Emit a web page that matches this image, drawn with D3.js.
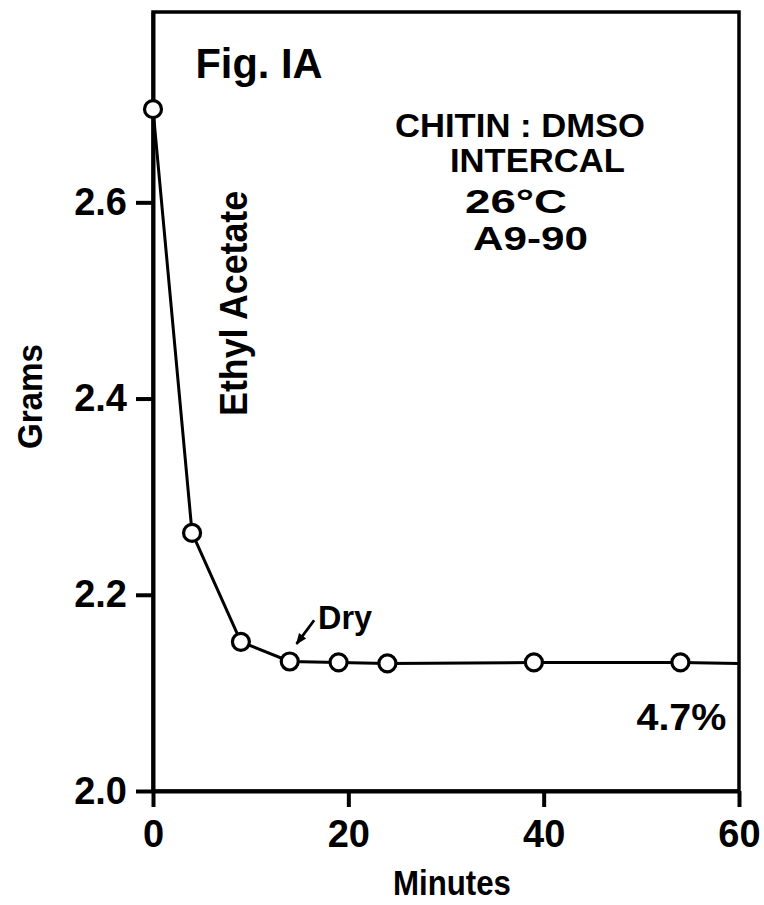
<!DOCTYPE html>
<html>
<head>
<meta charset="utf-8">
<script src="https://cdn.jsdelivr.net/npm/d3@7"></script>
<style>
  body { margin: 0; background: #fff; }
  text { font-family: "Liberation Sans", Arial, sans-serif; font-weight: bold; fill: #000; }
</style>
</head>
<body>
<div id="chart"></div>
<script>
/* CONSTANTS AND GLOBALS */

// data
var minutes = [0, 4, 9, 14, 19, 24, 39, 54, 60];
var grams = [2.695, 2.263, 2.152, 2.132, 2.131, 2.130, 2.131, 2.131, 2.130];
// the last point is only where the line runs into the frame
var hasMarker = [true, true, true, true, true, true, true, true, false];

var xTicks = [0, 20, 40, 60];
var yTicks = [2.0, 2.2, 2.4, 2.6];

var margin = {
  top: 12,
  bottom: 114,
  right: 25,
  left: 153},

width = 764 - margin.left - margin.right,
height = 905 - margin.top - margin.bottom;

var data = minutes.map(function(m, i) {
  return {min: m, g: grams[i], marker: hasMarker[i]};
});

// scales
var x = d3.scaleLinear()
  .domain([0, 60])
  .range([0, width]);

var y = d3.scaleLinear()
  .domain([2.0, 2.794])
  .range([height, 0]);

var svg = d3.select("#chart").append("svg")
  .attr("width", width + margin.left + margin.right)
  .attr("height", height + margin.top + margin.bottom)
  .append("g")
    .attr("transform", "translate(" + margin.left + "," + margin.top + ")");

// frame round the plot
svg.append("rect")
  .attr("x", 0)
  .attr("y", 0)
  .attr("width", width)
  .attr("height", height)
  .attr("fill", "none")
  .attr("stroke", "#000")
  .attr("stroke-width", 3.5);

// x Axis
var xAxis = svg.append("g")
  .attr("transform", "translate(0," + height + ")")
  .call(d3.axisBottom(x).tickValues(xTicks).tickSize(16).tickSizeOuter(0).tickPadding(13));

// y Axis
var yAxis = svg.append("g")
  .call(d3.axisLeft(y).tickValues(yTicks).tickSize(17).tickSizeOuter(0).tickPadding(9)
    .tickFormat(d3.format(".1f")));

[xAxis, yAxis].forEach(function(ax) {
  ax.selectAll("path, line").attr("stroke", "#000").attr("stroke-width", 4);
  ax.selectAll("text")
    .attr("fill", "#000")
    .style("font-size", "38px")
    .style("font-family", "'Liberation Sans', Arial, sans-serif")
    .style("font-weight", "bold");
});

// the line
var line = d3.line()
  .x(function(d) { return x(d.min); })
  .y(function(d) { return y(d.g); });

svg.append("path")
  .datum(data)
  .attr("d", line)
  .attr("fill", "none")
  .attr("stroke", "#000")
  .attr("stroke-width", 3);

// open circles
svg.selectAll(".pt")
  .data(data.filter(function(d) { return d.marker; }))
  .enter().append("circle")
  .attr("class", "pt")
  .attr("cx", function(d) { return x(d.min); })
  .attr("cy", function(d) { return y(d.g); })
  .attr("r", 8.5)
  .attr("fill", "#fff")
  .attr("stroke", "#000")
  .attr("stroke-width", 3.2);

// axis titles
svg.append("text")
  .attr("transform", "rotate(-90)")
  .attr("x", -(y(2.4) - 2))
  .attr("y", 42 - margin.left)
  .attr("text-anchor", "middle")
  .attr("textLength", 105)
  .attr("lengthAdjust", "spacingAndGlyphs")
  .style("font-size", "35px")
  .text("Grams");

svg.append("text")
  .attr("x", x(30) + 6)
  .attr("y", height + 104)
  .attr("text-anchor", "middle")
  .attr("textLength", 118)
  .attr("lengthAdjust", "spacingAndGlyphs")
  .style("font-size", "35px")
  .text("Minutes");

// annotations inside the plot
svg.append("text")
  .attr("x", x(4.35))
  .attr("y", y(2.727))
  .attr("textLength", 127)
  .attr("lengthAdjust", "spacingAndGlyphs")
  .style("font-size", "42px")
  .text("Fig. IA");

svg.append("text")
  .attr("transform", "rotate(-90)")
  .attr("x", -(y(2.497)))
  .attr("y", x(9.65))
  .attr("text-anchor", "middle")
  .attr("textLength", 225)
  .attr("lengthAdjust", "spacingAndGlyphs")
  .style("font-size", "38px")
  .text("Ethyl Acetate");

var notes = [
  {t: "CHITIN : DMSO", x0: 395, x1: 645, base: 137},
  {t: "INTERCAL", x0: 450, x1: 625, base: 172},
  {t: "26°C", x0: 465, x1: 567, base: 213},
  {t: "A9-90", x0: 473, x1: 588, base: 250}
];
svg.selectAll(".note")
  .data(notes)
  .enter().append("text")
  .attr("class", "note")
  .attr("x", function(d) { return d.x0 - margin.left; })
  .attr("y", function(d) { return d.base - margin.top; })
  .attr("textLength", function(d) { return d.x1 - d.x0; })
  .attr("lengthAdjust", "spacingAndGlyphs")
  .style("font-size", "33px")
  .text(function(d) { return d.t; });

svg.append("text")
  .attr("x", x(49.5))
  .attr("y", y(2.062))
  .attr("textLength", 90)
  .attr("lengthAdjust", "spacingAndGlyphs")
  .style("font-size", "37px")
  .text("4.7%");

// "Dry" with its little arrow
svg.append("text")
  .attr("x", x(16.9))
  .attr("y", y(2.165))
  .attr("textLength", 54)
  .attr("lengthAdjust", "spacingAndGlyphs")
  .style("font-size", "33px")
  .text("Dry");

svg.append("defs").append("marker")
  .attr("id", "head")
  .attr("viewBox", "0 0 10 10")
  .attr("refX", 9)
  .attr("refY", 5)
  .attr("markerWidth", 5)
  .attr("markerHeight", 4)
  .attr("orient", "auto")
  .append("path")
    .attr("d", "M0,1 L10,5 L0,9 Z")
    .attr("fill", "#000");

svg.append("line")
  .attr("x1", x(16.5))
  .attr("y1", y(2.174))
  .attr("x2", x(14.7))
  .attr("y2", y(2.150))
  .attr("stroke", "#000")
  .attr("stroke-width", 2.8)
  .attr("marker-end", "url(#head)");
</script>
</body>
</html>
